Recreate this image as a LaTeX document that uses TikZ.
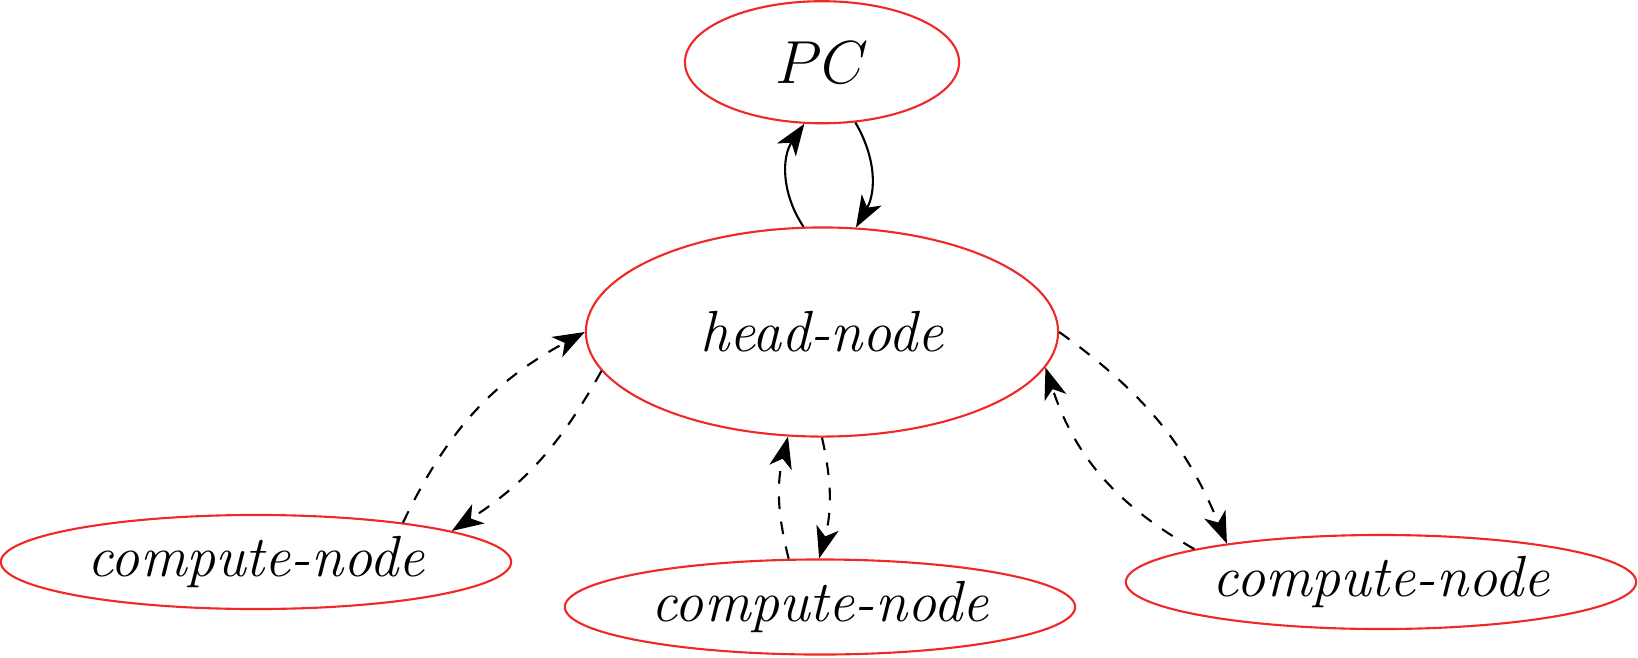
\documentclass[tikz,border=0pt]{standalone}
\usepackage{tikz}
\usetikzlibrary{positioning, shapes, arrows.meta}
\definecolor{HostRed}{RGB}{240,40,40}

\begin{document}
\begin{tikzpicture}[x=0.01cm, y=0.01cm, every node/.style={font=\fontsize{16.5}{19}\selectfont\itshape},
  hostnode/.style={ellipse, draw=HostRed, line width=0.6pt, inner sep=0pt},
  link/.style={-{Stealth[length=9pt, width=6.5pt, inset=2.5pt]}, line width=0.6pt},
  dashlink/.style={link, dash pattern=on 3.6pt off 3.6pt}
]
\useasboundingbox (0,0) rectangle (1638,-657);

% Hosts
\node[hostnode, minimum width=4.72cm, minimum height=2.09cm] (head) at (822,-332) {head-node};
\node[hostnode, minimum width=2.74cm, minimum height=1.22cm, above=1.02cm of head] (pc) {$PC$};
\node[hostnode, minimum width=5.1cm, minimum height=0.94cm] (cleft) at (256,-562) {compute-node};
\node[hostnode, minimum width=5.1cm, minimum height=0.95cm] (cmid) at (820,-607) {compute-node};
\node[hostnode, minimum width=5.1cm, minimum height=0.94cm] (cright) at (1381,-582) {compute-node};

% Links
\draw[link] (head.100) to[bend left=34] (pc.254);
\draw[link] (pc.299) to[bend left=30] (head.72);
\draw[dashlink] (cleft.15) to[bend left=18] (head.180);
\draw[dashlink] (head.190) to[bend left=14] (cleft.9);
\draw[dashlink] (cmid.123) to[bend left=14] (head.252);
\draw[dashlink] (head.270) to[bend left=14] (cmid.91);
\draw[dashlink] (head.0) to[bend left=16] (cright.166);
\draw[dashlink] (cright.170) to[bend left=21] (head.351);

\end{tikzpicture}
\end{document}
